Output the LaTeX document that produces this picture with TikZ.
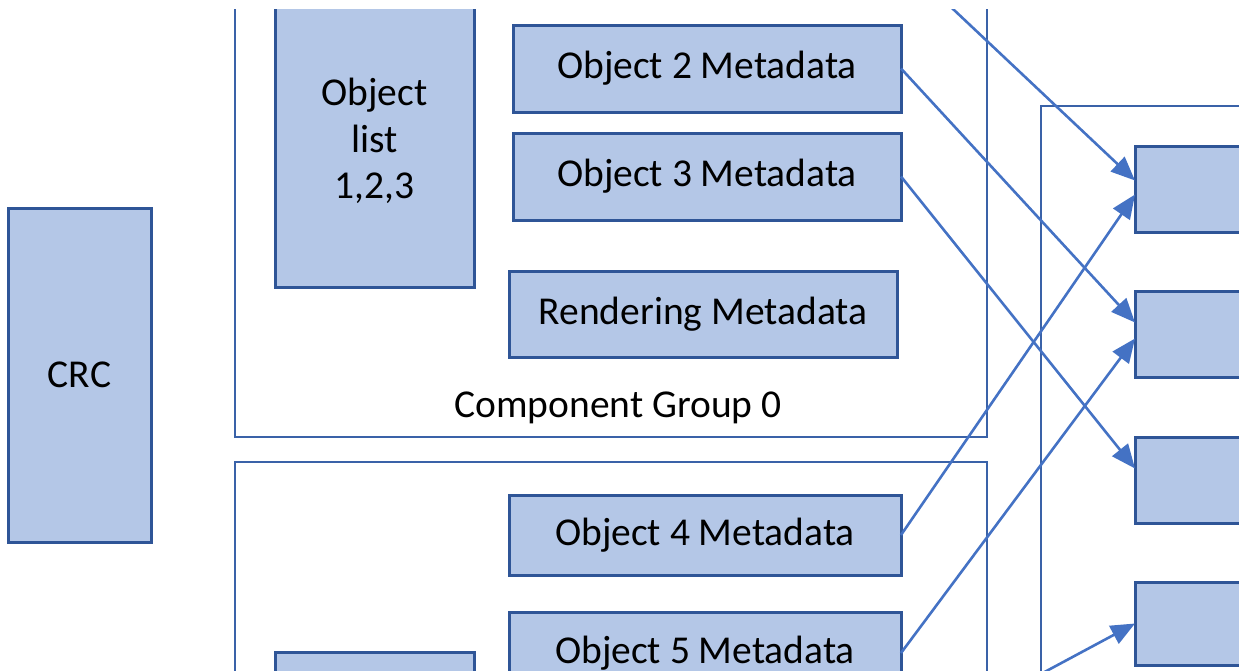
\documentclass[tikz,border=0pt]{standalone}
\usepackage{fontspec}
\setmainfont{Carlito}
\usetikzlibrary{arrows.meta}
\definecolor{boxfill}{HTML}{B4C7E7}
\definecolor{boxdraw}{HTML}{2F5597}
\definecolor{framedraw}{HTML}{3A62A8}
\definecolor{arrowcol}{HTML}{4472C4}
\tikzset{
  mbox/.style={draw=boxdraw, fill=boxfill, line width=3pt, inner sep=0pt, outer sep=0pt,
    anchor=north west, align=center, font=\fontsize{39.5}{46.5}\selectfont},
  frame/.style={draw=framedraw, line width=2.6pt, inner sep=0pt, outer sep=0pt, anchor=north west},
  arr/.style={draw=arrowcol, line width=2.6pt, -{Triangle[length=24pt,width=20pt]}},
  lbl/.style={inner sep=0pt, font=\fontsize{39.5}{46.5}\selectfont}
}
\begin{document}
\begin{tikzpicture}[x=1pt,y=-1pt]
\useasboundingbox (0,0) rectangle (1239,670);
\begin{scope}
\clip (0,9) rectangle (1239,670);
% outer frames
\node[frame, minimum width=752pt, minimum height=537pt] (g0) at (235,-100) {};
\node[frame, minimum width=752pt, minimum height=400pt] (g1) at (235,462) {};
\node[frame, minimum width=400pt, minimum height=800pt] (rf) at (1041,106) {};
\node[lbl] (g0l) at (618,408) {Component Group 0};
% left
\node[mbox, minimum width=143pt, minimum height=334pt] (crc) at (8,208) {CRC};
\node[mbox, minimum width=199pt, minimum height=292pt] (ol) at (275,-5) {Object\\list\\1,2,3};
\node[mbox, minimum width=199pt, minimum height=200pt] (ol2) at (275,652) {};
% metadata boxes
\node[mbox, minimum width=388pt, minimum height=86pt] (o1) at (513,-83) {};
\node[mbox, minimum width=388pt, minimum height=87pt] (o2) at (513,25) {Object 2 Metadata};
\node[mbox, minimum width=388pt, minimum height=87pt] (o3) at (513,133) {Object 3 Metadata};
\node[mbox, minimum width=388pt, minimum height=86pt] (rm) at (509,271) {Rendering Metadata};
\node[mbox, minimum width=392pt, minimum height=80pt] (o4) at (509,495) {Object 4 Metadata};
\node[mbox, minimum width=392pt, minimum height=82pt] (o5) at (509,612) {Object 5 Metadata};
\node[mbox, minimum width=392pt, minimum height=80pt] (o6) at (509,709) {};
% right boxes
\node[mbox, minimum width=300pt, minimum height=86pt] (r1) at (1135,146) {};
\node[mbox, minimum width=300pt, minimum height=86pt] (r2) at (1135,291) {};
\node[mbox, minimum width=300pt, minimum height=86pt] (r3) at (1135,437) {};
\node[mbox, minimum width=300pt, minimum height=83pt] (r4) at (1135,582) {};
% arrows
\draw[arr] (o1.east) -- ([yshift=8.5pt]r1.west);
\draw[arr] (o2.east) -- ([yshift=11.5pt]r2.west);
\draw[arr] (o3.east) -- ([yshift=11.5pt]r3.west);
\draw[arr] (o4.east) -- ([yshift=-5.5pt]r1.west);
\draw[arr] (o5.east) -- ([yshift=-4.5pt]r2.west);
\draw[arr] (o6.east) -- ([yshift=0pt]r4.west);
\end{scope}
\end{tikzpicture}
\end{document}
